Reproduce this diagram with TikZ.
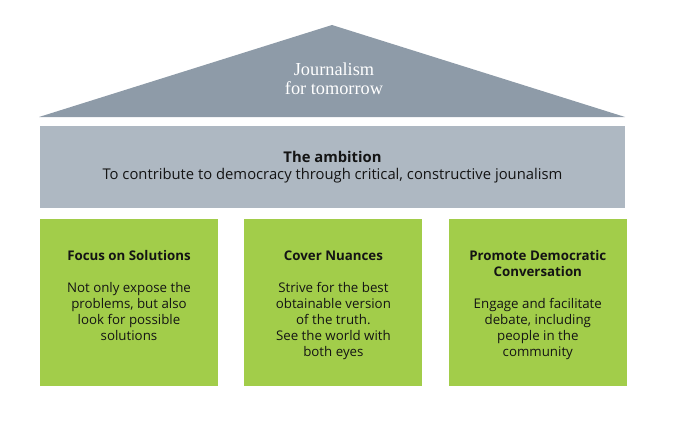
\documentclass[tikz,border=0pt]{standalone}
\usepackage{fontspec}
\setmainfont{Open Sans}
\newfontfamily\rooffont{Liberation Serif}
\usepackage{tikz}
\usetikzlibrary{positioning}

\definecolor{roofgrey}{HTML}{8E9BA8}
\definecolor{bandgrey}{HTML}{AEB8C2}
\definecolor{pillargreen}{HTML}{A2CD4A}
\definecolor{inkgrey}{HTML}{141414}

\begin{document}
\begin{tikzpicture}[
            x = 1pt, y = 1pt, % one unit per pixel
            node distance = 26pt, % gap between pillars
            every text node part/.style={align=center}
        ]

        \tikzstyle{band}=[
            fill = bandgrey,
            minimum width = 585pt,
            minimum height = 82pt,
            inner sep = 0pt,
            text = inkgrey,
            font = \fontsize{14.8}{17}\selectfont
        ]
        \tikzstyle{pillar}=[
            fill = pillargreen,
            minimum width = 178pt,
            minimum height = 167pt,
            inner sep = 0pt
        ]
        \tikzstyle{pillartext}=[
            anchor = north,
            inner sep = 0pt,
            text = inkgrey,
            font = \fontsize{13.3}{16}\selectfont
        ]

        \useasboundingbox (0,0) rectangle (674,424);

        % roof
        \coordinate (roofL) at (39,307);
        \coordinate (roofR) at (625,307);
        \coordinate (roofT) at (332,399);
        \fill[roofgrey] (roofL) -- (roofR) -- (roofT) -- cycle;
        \node[text = white, font = \rooffont\fontsize{18.3}{19}\selectfont] (roof) at (334,345) {Journalism \\ for tomorrow};

        % ambition band
        \node[band] (band) at (332.5,257) {\textbf{The ambition} \\ To contribute to democracy through critical, constructive jounalism};

        % pillars
        \node[pillar, anchor = north west] (focus) at ([yshift=-11pt]band.south west) {};
        \node[pillar, right = of focus] (nuance) {};
        \node[pillar, right = of nuance] (promote) {};

        \node[pillartext] (focustext) at ([yshift=-31pt]focus.north) {\textbf{Focus on Solutions} \\[16pt] Not only expose the \\ problems, but also \\ look for possible \\ solutions};
        \node[pillartext] (nuancetext) at ([yshift=-31pt]nuance.north) {\textbf{Cover Nuances} \\[16pt] Strive for the best \\ obtainable version \\ of the truth. \\ See the world with \\ both eyes};
        \node[pillartext] (promotetext) at ([yshift=-31pt]promote.north) {\textbf{Promote Democratic} \\ \textbf{Conversation} \\[16pt] Engage and facilitate \\ debate, including \\ people in the \\ community};

    \end{tikzpicture}
\end{document}
